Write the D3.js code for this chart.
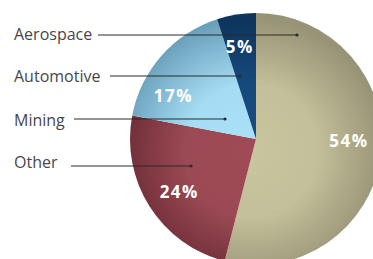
<!DOCTYPE html>
<html>
<head>
<meta charset="utf-8">
<script src="https://cdn.jsdelivr.net/npm/d3@7"></script>
<style>
  html, body { margin: 0; padding: 0; background: #fff; }
  svg { display: block; }
</style>
</head>
<body>
<svg id="chart" width="373" height="259"></svg>
<script>
// ---- data (clockwise from 12 o'clock) ----
const categories = ["Aerospace", "Other", "Mining", "Automotive"];
const values = [54, 24, 17, 5];
const percentLabels = ["54%", "24%", "17%", "5%"];
const legendOrder = ["Aerospace", "Automotive", "Mining", "Other"];

// ---- styling / layout ----
const baseColors = {Aerospace: "#c3bf9a", Other: "#9b4954", Mining: "#a5dcf3", Automotive: "#164a7c"};
const edgeColors = {Aerospace: "#979376", Other: "#692b35", Mining: "#6a9fba", Automotive: "#0d345c"};
const W = 373, H = 259;
const cx = 256, cy = 139, R = 126;
const labelRadius = 93;
const labelAngleNudge = {Aerospace: -6, Other: -2, Mining: -14, Automotive: -1}; // degrees
const legendBaseline = {Aerospace: 40, Automotive: 82, Mining: 126, Other: 168};
const leader = {
  Aerospace: {y: 35, x1: 98, x2: 297},
  Automotive: {y: 76, x1: 110, x2: 240},
  Mining: {y: 119, x1: 74, x2: 225},
  Other: {y: 166, x1: 71, x2: 191}
};

const svg = d3.select("#chart");
const defs = svg.append("defs");
categories.forEach((c, i) => {
  const g = defs.append("radialGradient")
    .attr("id", "grad" + i)
    .attr("gradientUnits", "userSpaceOnUse")
    .attr("cx", -5).attr("cy", 12).attr("r", R + 8);
  g.append("stop").attr("offset", "0%").attr("stop-color", d3.color(baseColors[c]).brighter(0.08));
  g.append("stop").attr("offset", "50%").attr("stop-color", baseColors[c]);
  g.append("stop").attr("offset", "100%").attr("stop-color", edgeColors[c]);
});

const pie = d3.pie().sort(null).value(d => d.value);
const arcs = pie(categories.map((c, i) => ({name: c, value: values[i], label: percentLabels[i], idx: i})));
const arc = d3.arc().innerRadius(0).outerRadius(R);

const g = svg.append("g").attr("transform", `translate(${cx},${cy})`);
g.selectAll("path.slice").data(arcs).enter().append("path")
  .attr("class", "slice")
  .attr("d", arc)
  .attr("fill", d => `url(#grad${d.data.idx})`);

g.selectAll("text.pct").data(arcs).enter().append("text")
  .attr("class", "pct")
  .each(function(d) {
    const a = (d.startAngle + d.endAngle) / 2 + labelAngleNudge[d.data.name] * Math.PI / 180;
    d3.select(this)
      .attr("x", labelRadius * Math.sin(a))
      .attr("y", -labelRadius * Math.cos(a) + 6);
  })
  .attr("text-anchor", "middle")
  .attr("font-family", "'Open Sans', sans-serif")
  .attr("font-weight", "bold")
  .attr("font-size", 17)
  .attr("letter-spacing", 1.5)
  .attr("fill", "#ffffff")
  .text(d => d.data.label);

// ---- legend labels with leader lines ----
const lg = svg.append("g");
legendOrder.forEach(name => {
  lg.append("text")
    .attr("x", 14).attr("y", legendBaseline[name])
    .attr("font-family", "'Open Sans', sans-serif")
    .attr("font-size", 16)
    .attr("fill", "#474747")
    .text(name);
  const L = leader[name];
  lg.append("line")
    .attr("x1", L.x1).attr("x2", L.x2).attr("y1", L.y).attr("y2", L.y)
    .attr("stroke", "#2b2b2b").attr("stroke-width", 1);
  lg.append("circle")
    .attr("cx", L.x2).attr("cy", L.y).attr("r", 1.6)
    .attr("fill", "#2b2b2b");
});
</script>
</body>
</html>
